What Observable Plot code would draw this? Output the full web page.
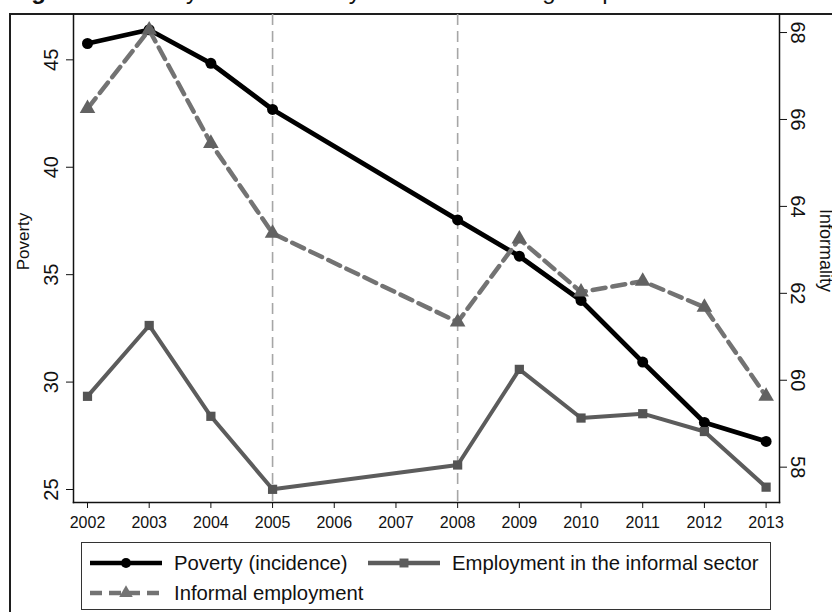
<!DOCTYPE html>
<html>
<head>
<meta charset="utf-8">
<script src="https://cdn.jsdelivr.net/npm/d3@7"></script>
<script src="https://cdn.jsdelivr.net/npm/@observablehq/plot@0.6"></script>
<style>
  html, body { margin: 0; padding: 0; background: #fff; }
  #page { position: relative; width: 832px; height: 612px; overflow: hidden; font-family: "Liberation Sans", Arial, sans-serif; background: #fff; }
  #title { position: absolute; left: 10px; top: -23px; font-size: 24px; white-space: nowrap; color: #111; }
  #frame { position: absolute; left: 9px; top: 13px; width: 900px; height: 700px; border: 2px solid #1e1e1e; box-sizing: border-box; }
  #chart { position: absolute; left: 0; top: 0; }
  #legend { position: absolute; left: 81px; top: 542px; width: 690px; height: 68px; border: 1.5px solid #333; box-sizing: border-box; font-size: 20.3px; color: #111; }
  .item { position: absolute; display: flex; align-items: center; height: 26px; }
  .item svg { margin-right: 12px; }
</style>
</head>
<body>
<div id="page">
  <div id="title"><b>Figure 1.</b> Poverty and informality in Ecuador during the period 2002–2013</div>
  <div id="frame"></div>
  <div id="chart"></div>
  <div id="legend"></div>
</div>
<script>
// ---- data ----
const years = [2002, 2003, 2004, 2005, 2008, 2009, 2010, 2011, 2012, 2013];
const poverty = [45.76, 46.40, 44.84, 42.69, 37.55, 35.86, 33.80, 30.93, 28.12, 27.24];            // left axis
const informalEmployment = [66.25, 68.06, 65.45, 63.38, 61.34, 63.25, 62.03, 62.28, 61.68, 59.63]; // right axis
const informalSector = [59.63, 61.26, 59.17, 57.49, 58.05, 60.25, 59.13, 59.23, 58.82, 57.54];     // right axis
const xTicks = [2002, 2003, 2004, 2005, 2006, 2007, 2008, 2009, 2010, 2011, 2012, 2013];
const leftTicks = [25, 30, 35, 40, 45];
const rightTicks = [58, 60, 62, 64, 66, 68];
const refYears = [2005, 2008];
const seriesNames = ["Poverty (incidence)", "Employment in the informal sector", "Informal employment"];

// right (Informality) axis expressed on the left (Poverty) axis
const toLeft = d3.scaleLinear().domain([58, 68]).range([26.04, 46.27]);

const povData = years.map((x, i) => ({x, y: poverty[i]}));
const sectorData = years.map((x, i) => ({x, y: toLeft(informalSector[i])}));
const infData = years.map((x, i) => ({x, y: toLeft(informalEmployment[i])}));

const cPov = "#000000", cSector = "#5c5c5c", cInf = "#737373";

const chart = Plot.plot({
  width: 832,
  height: 540,
  marginLeft: 73,
  marginRight: 53,
  marginTop: 14,
  marginBottom: 38,
  x: {domain: [2002, 2013], insetLeft: 14, insetRight: 13.4},
  y: {domain: [24.395, 47.11]},
  style: {fontFamily: "Liberation Sans, Arial, sans-serif", background: "transparent", color: "#111"},
  marks: [
    Plot.ruleX(refYears, {stroke: "#a6a6a6", strokeWidth: 1.6, strokeDasharray: "11,6"}),
    Plot.line(povData, {x: "x", y: "y", stroke: cPov, strokeWidth: 4.8}),
    Plot.dot(povData, {x: "x", y: "y", r: 5.5, fill: cPov, stroke: null}),
    Plot.line(sectorData, {x: "x", y: "y", stroke: cSector, strokeWidth: 4}),
    Plot.dot(sectorData, {x: "x", y: "y", symbol: "square", r: 5.2, fill: "#545454", stroke: null}),
    Plot.line(infData, {x: "x", y: "y", stroke: cInf, strokeWidth: 4.5, strokeDasharray: "13,7"}),
    Plot.dot(infData, {x: "x", y: "y", symbol: "triangle", r: 5.8, fill: "#626262", stroke: null}),
    Plot.frame({anchor: "left", stroke: "#111", strokeWidth: 1.5}),
    Plot.frame({anchor: "right", stroke: "#111", strokeWidth: 1.5}),
    Plot.frame({anchor: "bottom", stroke: "#111", strokeWidth: 1.5}),
    Plot.axisX({ticks: xTicks, tickFormat: d => `${d}`, tickSize: 6, tickPadding: 8, fontSize: 16, label: null, stroke: "#111"}),
    Plot.axisY({anchor: "left", ticks: leftTicks, tickSize: 7, tickPadding: 9, tickRotate: -90, fontSize: 20, label: null, stroke: "#111"}),
    Plot.axisY({anchor: "right", ticks: rightTicks.map(toLeft), tickFormat: d => `${Math.round(toLeft.invert(d))}`, tickSize: 7, tickPadding: 4, tickRotate: 90, lineAnchor: "bottom", fontSize: 20, label: null, stroke: "#111"}),
    Plot.text(["Poverty"], {frameAnchor: "left", dx: -45, dy: -17, rotate: -90, lineAnchor: "bottom", textAnchor: "middle", fontSize: 17, fill: "#111"}),
    Plot.text(["Informality"], {frameAnchor: "right", dx: 40, dy: -8, rotate: 90, lineAnchor: "bottom", textAnchor: "middle", fontSize: 18, fill: "#111"})
  ]
});
document.getElementById("chart").appendChild(chart);

// ---- legend ----
const legend = document.getElementById("legend");
const legendItems = [
  {name: seriesNames[0], color: cPov, dash: null, symbol: "circle", left: 8, top: 7},
  {name: seriesNames[1], color: cSector, dash: null, symbol: "square", left: 286, top: 7},
  {name: seriesNames[2], color: cInf, dash: "12,7", symbol: "triangle", left: 8, top: 37}
];
legendItems.forEach(it => {
  const div = document.createElement("div");
  div.className = "item";
  div.style.left = it.left + "px";
  div.style.top = it.top + "px";
  const s = d3.create("svg").attr("width", 72).attr("height", 20);
  s.append("line").attr("x1", 0).attr("x2", 72).attr("y1", 10).attr("y2", 10)
    .attr("stroke", it.color).attr("stroke-width", 4.5)
    .attr("stroke-dasharray", it.dash);
  const sym = it.symbol === "circle" ? d3.symbolCircle : it.symbol === "square" ? d3.symbolSquare : d3.symbolTriangle;
  s.append("path").attr("transform", "translate(36,10)")
    .attr("d", d3.symbol(sym, 80)).attr("fill", it.color);
  div.appendChild(s.node());
  const t = document.createElement("span");
  t.textContent = it.name;
  div.appendChild(t);
  legend.appendChild(div);
});
</script>
</body>
</html>
